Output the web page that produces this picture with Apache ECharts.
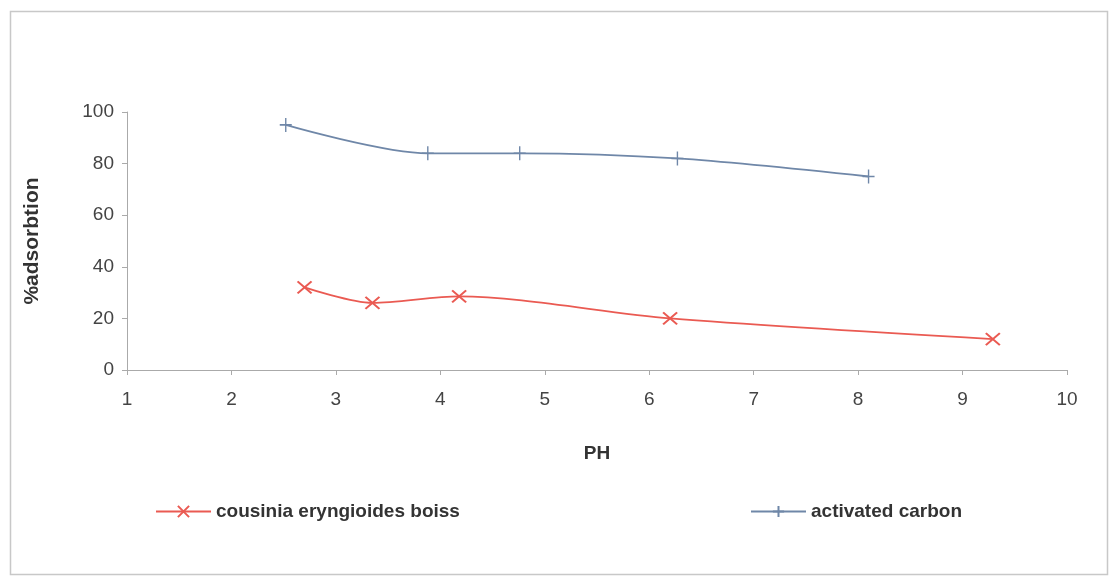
<!DOCTYPE html>
<html><head><meta charset="utf-8">
<script src="https://cdn.jsdelivr.net/npm/echarts@6/dist/echarts.min.js"></script>
<style>html,body{margin:0;padding:0;background:#fff}#c{width:1115px;height:576px}</style>
</head><body><div id="c"></div>
<script>
const seriesNames = ['cousinia eryngioides boiss', 'activated carbon'];
const cousiniaPH = [2.70, 3.35, 4.18, 6.20, 9.29];
const cousiniaAds = [32, 26, 28.5, 20, 12];
const carbonPH = [2.52, 3.88, 4.76, 6.27, 8.10];
const carbonAds = [95, 84, 84, 82, 75];
const xTicks = [1, 10, 1];
const yTicks = [0, 100, 20];

const font = 'Liberation Sans, Arial, sans-serif';
const red = '#ea5a52';
const blue = '#6f87a8';
const plusPath = 'path://M0,-10 L0,10 M-7,0 L7,0';
const xPath = 'path://M-10,-8 L10,8 M-10,8 L10,-8';

const chart = echarts.init(document.getElementById('c'));
chart.setOption({
  backgroundColor: '#fff',
  animation: false,
  graphic: [{
    type: 'rect', left: 8, top: 9, shape: { width: 1097, height: 563 },
    style: { fill: 'none', stroke: '#c8c8c8', lineWidth: 1.5 }, silent: true
  }],
  grid: { left: 127, right: 48, top: 112, bottom: 206 },
  legend: [{
    data: [seriesNames[0]], left: 150, top: 497, itemWidth: 55, itemHeight: 14, itemGap: 6,
    textStyle: { fontFamily: font, fontSize: 19, fontWeight: 'bold', color: '#333' }
  }, {
    data: [seriesNames[1]], left: 745, top: 497, itemWidth: 55, itemHeight: 14,
    textStyle: { fontFamily: font, fontSize: 19, fontWeight: 'bold', color: '#333' }
  }],
  xAxis: {
    type: 'value', min: xTicks[0], max: xTicks[1], interval: xTicks[2],
    name: 'PH', nameLocation: 'middle', nameGap: 74,
    nameTextStyle: { fontFamily: font, fontSize: 19, fontWeight: 'bold', color: '#333' },
    axisLine: { lineStyle: { color: '#aaa' } },
    axisTick: { show: true, length: 5, lineStyle: { color: '#aaa' } },
    axisLabel: { fontFamily: font, fontSize: 19, color: '#444', margin: 20 },
    splitLine: { show: false }
  },
  yAxis: {
    type: 'value', min: yTicks[0], max: yTicks[1], interval: yTicks[2],
    name: '%adsorbtion', nameLocation: 'middle', nameGap: 84, nameRotate: 90,
    nameTextStyle: { fontFamily: font, fontSize: 21, fontWeight: 'bold', color: '#333' },
    axisLine: { show: true, lineStyle: { color: '#aaa' } },
    axisTick: { show: true, length: 5, lineStyle: { color: '#aaa' } },
    axisLabel: { fontFamily: font, fontSize: 19, color: '#444', margin: 13 },
    splitLine: { show: false }
  },
  series: [{
    name: seriesNames[0], type: 'line', smooth: 0.3,
    data: cousiniaPH.map((x, i) => [x, cousiniaAds[i]]),
    symbol: xPath, symbolSize: [14, 12],
    lineStyle: { color: red, width: 1.8 },
    itemStyle: { color: red, borderColor: red, borderWidth: 2 }
  }, {
    name: seriesNames[1], type: 'line', smooth: 0.3,
    data: carbonPH.map((x, i) => [x, carbonAds[i]]),
    symbol: plusPath, symbolSize: [12, 14],
    lineStyle: { color: blue, width: 1.8 },
    itemStyle: { color: blue, borderColor: blue, borderWidth: 1.5 }
  }]
});
</script></body></html>
